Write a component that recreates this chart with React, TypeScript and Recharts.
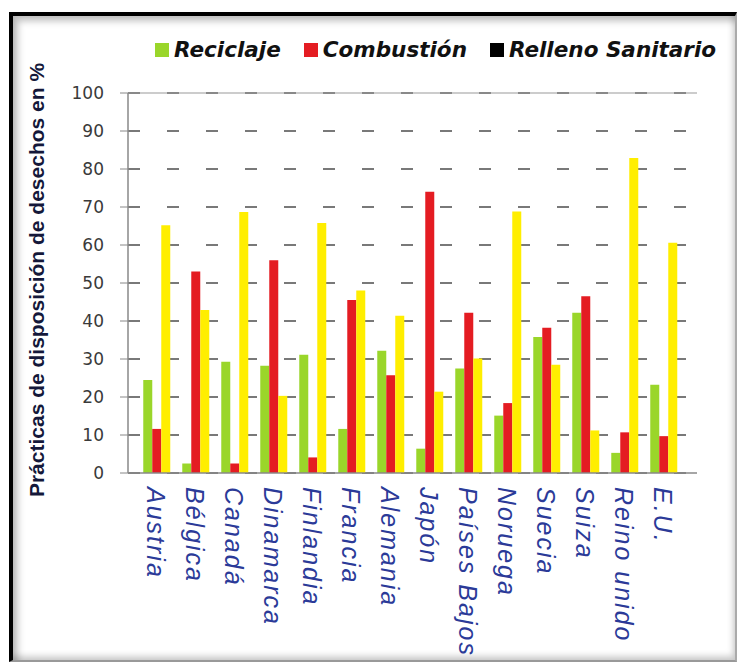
import { BarChart, Bar, XAxis, YAxis, CartesianGrid, Legend, ReferenceLine, Label } from "recharts";

const paises = [
  "Austria", "Bélgica", "Canadá", "Dinamarca", "Finlandia", "Francia", "Alemania",
  "Japón", "Países Bajos", "Noruega", "Suecia", "Suiza", "Reino unido", "E.U.",
];
const reciclaje = [24.5, 2.5, 29.3, 28.2, 31.1, 11.6, 32.2, 6.4, 27.5, 15.1, 35.8, 42.2, 5.3, 23.2];
const combustion = [11.6, 53, 2.5, 56, 4.1, 45.5, 25.7, 74, 42.2, 18.4, 38.2, 46.5, 10.7, 9.7];
const relleno = [65.2, 42.9, 68.7, 20.3, 65.8, 48, 41.4, 21.4, 30.1, 68.8, 28.5, 11.2, 82.9, 60.6];
const yTicks = [0, 10, 20, 30, 40, 50, 60, 70, 80, 90, 100];

const seriesNames = ["Reciclaje", "Combustión", "Relleno Sanitario"];
// the legend swatch for "Relleno Sanitario" is black in the original, bars are yellow
const legendSwatch = ["#9ad62a", "#e41c22", "#000000"];

const data = paises.map((pais, i) => ({
  pais,
  reciclaje: reciclaje[i],
  combustion: combustion[i],
  relleno: relleno[i],
}));

const PaisTick = ({ x, y, payload }: any) => {
  const tx = x - 2;
  const ty = y + 14;
  return (
    <text
      x={tx}
      y={ty}
      transform={`rotate(90, ${tx}, ${ty})`}
      textAnchor="start"
      dominantBaseline="central"
      fontFamily="'Liberation Sans', Arial, sans-serif"
      fontStyle="italic"
      fontSize={25}
      letterSpacing={2}
      fill="#2b3a98"
    >
      {payload.value}
    </text>
  );
};

const LegendContent = ({ payload }: any) => {
  const items = [...(payload || [])].sort(
    (a: any, b: any) => seriesNames.indexOf(a.value) - seriesNames.indexOf(b.value)
  );
  return (
    <div style={{ display: "flex", alignItems: "center", whiteSpace: "nowrap" }}>
      {items.map((item: any) => (
        <div key={item.value} style={{ display: "flex", alignItems: "center", marginRight: 23, flexShrink: 0 }}>
          <span
            style={{
              width: 14,
              height: 14,
              background: legendSwatch[seriesNames.indexOf(item.value)],
              marginRight: 5,
              display: "inline-block",
            }}
          />
          <span
            style={{
              fontFamily: "'DejaVu Sans', sans-serif",
              fontWeight: "bold",
              fontStyle: "italic",
              fontSize: 21.5,
              color: "#111",
              whiteSpace: "nowrap",
            }}
          >
            {item.value}
          </span>
        </div>
      ))}
    </div>
  );
};

export default function App() {
  return (
    <div style={{ position: "absolute", left: 0, top: 0, width: 737, height: 662, background: "#fff", overflow: "hidden" }}>
      <div
        style={{
          position: "absolute",
          left: 9,
          top: 12,
          width: 737 - 9 - 4 - 2,
          height: 662 - 12 - 4 - 2,
          borderLeft: "4px solid #000",
          borderTop: "4px solid #000",
          borderRight: "2px solid #aaa",
          borderBottom: "2px solid #999",
          boxShadow: "inset 5px 5px 7px rgba(0,0,0,0.25), inset -2px -4px 6px rgba(0,0,0,0.2)",
        }}
      />
      <div style={{ position: "absolute", left: 0, top: 0 }}>
        <BarChart
          width={737}
          height={662}
          data={data}
          margin={{ top: 93, right: 40, left: 0, bottom: 0 }}
          barCategoryGap="13.5%"
          barGap={0}
        >
          <CartesianGrid vertical={false} stroke="#4d4d4d" strokeWidth={1.5} strokeDasharray="12 27" />
          <ReferenceLine y={100} stroke="#999" strokeWidth={1.2} />
          <XAxis
            dataKey="pais"
            height={189}
            interval={0}
            tickLine={false}
            tickSize={0}
            tickMargin={0}
            axisLine={{ stroke: "#888", strokeWidth: 1.5 }}
            padding={{ left: 10, right: 13 }}
            tick={<PaisTick />}
          />
          <YAxis
            width={128}
            domain={[0, 100]}
            ticks={yTicks}
            interval={0}
            tickSize={8}
            tickMargin={16}
            axisLine={{ stroke: "#888", strokeWidth: 1.5 }}
            tickLine={{ stroke: "#888" }}
            tick={{ fontSize: 17, fill: "#3a3a3a", fontFamily: "'DejaVu Sans', sans-serif" }}
          >
            <Label
              content={() => (
                <text
                  x={36}
                  y={280}
                  transform="rotate(-90, 36, 280)"
                  textAnchor="middle"
                  dominantBaseline="central"
                  fontFamily="'Liberation Sans', Arial, sans-serif"
                  fontWeight="bold"
                  fontSize={21}
                  fill="#14183a"
                >
                  Prácticas de disposición de desechos en %
                </text>
              )}
            />
          </YAxis>
          <Legend
            layout="horizontal"
            verticalAlign="middle"
            align="center"
            wrapperStyle={{ top: 37, left: 155, width: 580 }}
            content={<LegendContent />}
          />
          <Bar dataKey="reciclaje" name="Reciclaje" fill="#9ad62a" isAnimationActive={false} />
          <Bar dataKey="combustion" name="Combustión" fill="#e41c22" isAnimationActive={false} />
          <Bar dataKey="relleno" name="Relleno Sanitario" fill="#ffee00" isAnimationActive={false} />
        </BarChart>
      </div>
    </div>
  );
}
